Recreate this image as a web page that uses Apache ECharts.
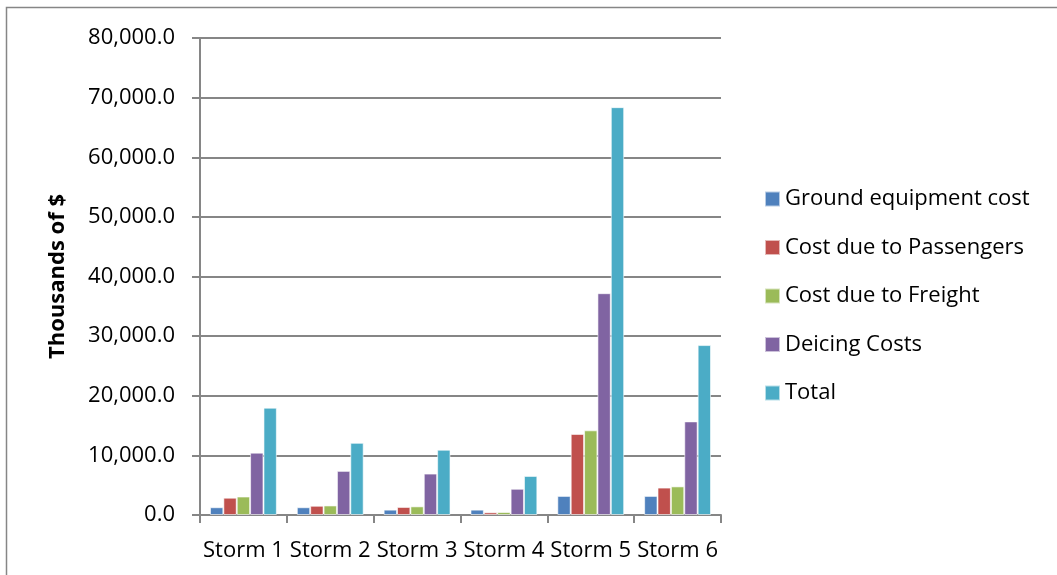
<!DOCTYPE html>
<html>
<head>
<meta charset="utf-8">
<script src="https://cdn.jsdelivr.net/npm/echarts@6/dist/echarts.min.js"></script>
<style>
  html, body { margin: 0; padding: 0; background: #fff; }
  #chart { width: 1057px; height: 575px; }
</style>
</head>
<body>
<div id="chart"></div>
<script>
// Storm cost breakdown, thousands of dollars
const categories = ['Storm 1', 'Storm 2', 'Storm 3', 'Storm 4', 'Storm 5', 'Storm 6'];
const groundEquipment = [1300, 1300, 900, 900, 3200, 3200];
const passengers = [2900, 1550, 1350, 450, 13600, 4600];
const freight = [3100, 1600, 1450, 500, 14200, 4800];
const deicing = [10450, 7400, 6950, 4400, 37200, 15700];
const total = [18000, 12100, 10950, 6550, 68400, 28500];
const yTicks = { min: 0, max: 80000, interval: 10000 };

const seriesDefs = [
  { name: 'Ground equipment cost', data: groundEquipment, color: '#4F81BD' },
  { name: 'Cost due to Passengers', data: passengers, color: '#C0504D' },
  { name: 'Cost due to Freight', data: freight, color: '#9BBB59' },
  { name: 'Deicing Costs', data: deicing, color: '#8064A2' },
  { name: 'Total', data: total, color: '#4BACC6' }
];

const font = '"Open Sans", "DejaVu Sans", sans-serif';
const gray = '#868686';
const fontSize = 22;

const chart = echarts.init(document.getElementById('chart'), null, { renderer: 'canvas' });
chart.setOption({
  animation: false,
  backgroundColor: '#fff',
  textStyle: { fontFamily: font },
  graphic: [{
    type: 'rect',
    shape: { x: 6.5, y: 7.5, width: 1200, height: 700 },
    style: { fill: 'none', stroke: gray, lineWidth: 1.5 },
    z: -1
  }],
  grid: { left: 200, right: 336, top: 38, bottom: 60 },
  legend: {
    orient: 'vertical',
    left: 764,
    top: 188,
    padding: 0,
    itemWidth: 15,
    itemHeight: 15,
    itemGap: 26.5,
    itemTextGap: 6,
    icon: 'rect',
    textStyle: { fontSize: fontSize, lineHeight: 22, color: '#000', fontFamily: font },
    data: seriesDefs.map(s => s.name)
  },
  xAxis: {
    type: 'category',
    data: categories,
    axisLine: { lineStyle: { color: gray, width: 2 } },
    axisTick: { show: true, length: 8, alignWithLabel: false, lineStyle: { color: gray, width: 2 } },
    axisLabel: { fontSize: fontSize, color: '#000', margin: 25, fontFamily: font, interval: 0 }
  },
  yAxis: {
    type: 'value',
    min: yTicks.min,
    max: yTicks.max,
    interval: yTicks.interval,
    name: 'Thousands of $',
    nameLocation: 'middle',
    nameGap: 131,
    nameTextStyle: { fontSize: fontSize, fontWeight: 'bold', color: '#000', fontFamily: font },
    axisLine: { show: true, lineStyle: { color: gray, width: 2 } },
    axisTick: { show: true, length: 8, lineStyle: { color: gray, width: 2 } },
    axisLabel: {
      fontSize: fontSize, color: '#000', margin: 25, fontFamily: font,
      formatter: v => v.toLocaleString('en-US', { minimumFractionDigits: 1, maximumFractionDigits: 1 })
    },
    splitLine: { show: true, lineStyle: { color: gray, width: 2 } }
  },
  series: seriesDefs.map(s => ({
    name: s.name,
    type: 'bar',
    data: s.data,
    barGap: '0%',
    barCategoryGap: '23%',
    itemStyle: { color: s.color, borderColor: 'rgba(255,255,255,0.6)', borderWidth: 1 }
  }))
});
</script>
</body>
</html>
